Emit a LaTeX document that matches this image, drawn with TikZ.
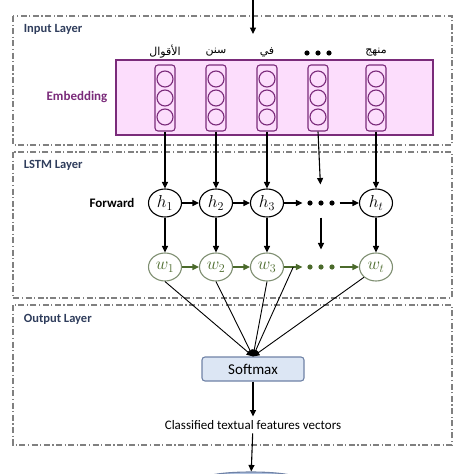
\documentclass[tikz,border=0pt]{standalone}
\usepackage{fontspec}
\setmainfont{Carlito}
\newfontfamily\arabicfont[Script=Arabic]{DejaVu Sans}
\TeXXeTstate=1
\usetikzlibrary{arrows.meta,shapes.geometric,calc}

\definecolor{layertext}{HTML}{2F3D5C}
\definecolor{embfill}{HTML}{FCDDFC}
\definecolor{embdraw}{HTML}{7A2B7A}
\definecolor{wtext}{HTML}{4B6A2B}
\definecolor{wdraw}{HTML}{7F8F72}
\definecolor{smfill}{HTML}{DCE6F4}
\definecolor{smdraw}{HTML}{6F82A6}
\definecolor{dbfill}{HTML}{AFC1DF}

\tikzset{
  layerbox/.style={draw=gray, line width=1.1pt, dash pattern=on 6pt off 2.5pt on 1.2pt off 2.5pt},
  layertitle/.style={anchor=west, text=layertext, font=\bfseries\fontsize{12.5}{14}\selectfont},
  vecbox/.style={draw=embdraw, line width=1.1pt, rounded corners=3pt, minimum width=20pt, minimum height=66pt, inner sep=0pt},
  cell/.style={circle, draw=embdraw, line width=1.1pt, minimum size=16pt, inner sep=0pt},
  word/.style={font=\arabicfont\fontsize{11}{13}\selectfont},
  dotsbox/.style={minimum width=36pt, minimum height=10pt, inner sep=0pt},
  hstate/.style={ellipse, draw, line width=1.1pt, minimum width=33pt, minimum height=28pt, inner sep=0pt, font=\fontsize{17}{19}\selectfont},
  wstate/.style={hstate, draw=wdraw, text=wtext},
}

\begin{document}
\begin{tikzpicture}[x=1pt, y=-1pt, >={Triangle[length=6.5pt,width=6pt]}, line width=1.1pt]
  \useasboundingbox (0,0) rectangle (474,474);
  \clip (0,0) rectangle (474,474);

  % Warstwy
  \draw[layerbox] (13,16) rectangle (452,145);
  \draw[layerbox] (13,152) rectangle (452,298);
  \draw[layerbox] (13,305) rectangle (452,445);
  \node[layertitle] (tin) at (20,29) {Input Layer};
  \node[layertitle] (tlstm) at (20,165) {LSTM Layer};
  \node[layertitle] (tout) at (20,319) {Output Layer};

  % Wejscie
  \coordinate (src) at (253,-2);
  \coordinate (srcend) at (253,34);
  \draw[->] (src) -- (srcend);

  % Embedding
  \node[draw=embdraw, fill=embfill, line width=1.1pt, minimum width=317pt, minimum height=75pt] (emb) at (274.5,97.5) {};
  \node[text=embdraw, font=\bfseries\fontsize{13}{15}\selectfont] (embl) at (77,97) {Embedding};

  \foreach \x/\i in {165/1, 216/2, 267/3, 318/4, 376/5} {
    \node[vecbox] (v\i) at (\x,98) {};
    \foreach \y/\j in {79/1, 98/2, 117/3}
      \node[cell] (c\i\j) at (\x,\y) {};
  }

  % Slowa
  \node[word] (a1) at (165,52) {\beginR الأقوال\endR};
  \node[word] (a2) at (216,52) {\beginR سنن\endR};
  \node[word] (a3) at (267,52) {\beginR في\endR};
  \node[dotsbox] (a4) at (318,53) {};
  \foreach \dx in {-11,0,11} \fill ([xshift=\dx pt]a4.center) circle (2.6pt);
  \node[word] (a5) at (376,52) {\beginR منهج\endR};

  % LSTM forward
  \node[font=\bfseries\fontsize{13}{15}\selectfont] (fwd) at (112,203) {Forward};
  \node[hstate] (h1) at (165,203) {$h_1$};
  \node[hstate] (h2) at (216,203) {$h_2$};
  \node[hstate] (h3) at (267,203) {$h_3$};
  \node[dotsbox] (h4) at (321,203) {};
  \foreach \dx in {-11,0,11} \fill ([xshift=\dx pt]h4.center) circle (2.6pt);
  \node[hstate] (h5) at (376,203) {$h_t$};

  \node[wstate] (w1) at (165,267) {$w_1$};
  \node[wstate] (w2) at (216,267) {$w_2$};
  \node[wstate] (w3) at (267,267) {$w_3$};
  \node[dotsbox] (w4) at (321,267) {};
  \foreach \dx in {-11,0,11} \fill[wtext] ([xshift=\dx pt]w4.center) circle (2.6pt);
  \node[wstate] (w5) at (376,267) {$w_t$};

  \foreach \i in {1,2,3,5} {
    \draw[->] (v\i) -- (h\i);
    \draw[->] (h\i) -- (w\i);
  }
  \draw[->, shorten >=13pt] (v4.south) -- (h4.north);
  \draw[->, shorten <=9pt, shorten >=12pt] (h4.south) -- (w4.north);

  \foreach \a/\b in {1/2, 2/3, 3/4, 4/5} {
    \draw[->] (h\a) -- (h\b);
    \draw[->, wtext] (w\a) -- (w\b);
  }

  % Softmax
  \node[draw=smdraw, fill=smfill, rounded corners=3pt, minimum width=102pt, minimum height=24pt, font=\fontsize{15}{17}\selectfont] (sm) at (253,369) {Softmax};
  \coordinate (w34) at ($(w3.east)!0.5!(w4.west)$);
  \foreach \s in {w1.south, w2.south, w3.south, w34, w5.south west}
    \draw[->, line width=0.9pt] (\s) -- (sm.north);

  \node[font=\fontsize{13}{15}\selectfont] (cls) at (253,425) {Classified textual features vectors};
  \draw[->] (sm) -- (cls);

  \node[ellipse, draw=smdraw, fill=dbfill, inner sep=0pt, minimum width=90pt, minimum height=12pt] (db) at (251,478) {};
  \draw[->] (cls) -- (db);
\end{tikzpicture}
\end{document}
